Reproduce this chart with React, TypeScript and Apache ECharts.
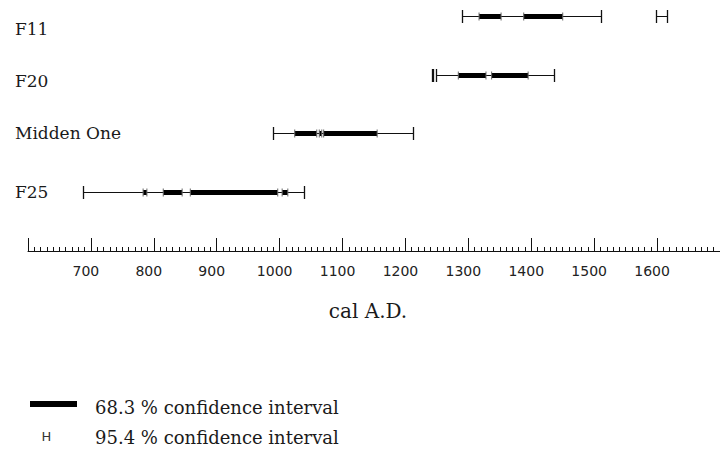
import React, { useEffect, useRef } from "react";
import * as echarts from "echarts";

// Sample names, bottom to top (y = 1..4)
const sampleNames = ["F25", "Midden One", "F20", "F11"];

// 95.4 % confidence ranges (cal A.D.), per sample
const ci95F25 = [[687, 1038]];
const ci95Midden = [[989, 1212]];
const ci95F20 = [[1242, 1244], [1249, 1436]];
const ci95F11 = [[1290, 1511], [1598, 1615]];

// 68.3 % confidence ranges (cal A.D.), per sample
const ci68F25 = [[783, 789], [815, 845], [858, 997], [1004, 1013]];
const ci68Midden = [[1024, 1059], [1063, 1067], [1070, 1155]];
const ci68F20 = [[1284, 1328], [1337, 1395]];
const ci68F11 = [[1317, 1352], [1388, 1450]];

const axisMin = 600;
const axisMax = 1700;
const axisInterval = 100;

const legendLabels = ["68.3 % confidence interval", "95.4 % confidence interval"];
const axisTitle = "cal A.D.";

// style: vertical nudge of each row label (px), same order as sampleNames
const labelNudge = [0, 0, 6, 13];

const ci95All = [ci95F25, ci95Midden, ci95F20, ci95F11];
const ci68All = [ci68F25, ci68Midden, ci68F20, ci68F11];

export default function App() {
  const ref = useRef<HTMLDivElement>(null);

  useEffect(() => {
    document.body.style.margin = "0";
    if (!ref.current) return;
    const chart = echarts.init(ref.current, undefined, { renderer: "svg" });

    const data95: number[][] = [];
    ci95All.forEach((ranges, i) => ranges.forEach((r) => data95.push([r[0], r[1], i + 1])));
    const data68: number[][] = [];
    ci68All.forEach((ranges, i) => ranges.forEach((r) => data68.push([r[0], r[1], i + 1])));

    const rich: Record<string, any> = {};
    sampleNames.forEach((_, i) => {
      rich["r" + i] = {
        fontFamily: "DejaVu Serif",
        fontSize: 17,
        color: "#1a1a1a",
        padding: [labelNudge[i] * 2, 0, 0, 0],
      };
    });

    const render95 = (params: any, api: any) => {
      const a = api.coord([api.value(0), api.value(2)]);
      const b = api.coord([api.value(1), api.value(2)]);
      const y = Math.round(a[1]) + 0.5;
      const x0 = Math.round(a[0]) + 0.5;
      const x1 = Math.round(b[0]) + 0.5;
      return {
        type: "group",
        children: [
          { type: "line", shape: { x1: x0, y1: y, x2: x1, y2: y }, style: { stroke: "#111", lineWidth: 1 } },
          { type: "line", shape: { x1: x0, y1: y - 6.5, x2: x0, y2: y + 6.5 }, style: { stroke: "#111", lineWidth: 1.3 } },
          { type: "line", shape: { x1: x1, y1: y - 6.5, x2: x1, y2: y + 6.5 }, style: { stroke: "#111", lineWidth: 1.3 } },
        ],
      };
    };

    const render68 = (params: any, api: any) => {
      const a = api.coord([api.value(0), api.value(2)]);
      const b = api.coord([api.value(1), api.value(2)]);
      const y = Math.round(a[1]) + 0.5;
      const x0 = a[0];
      const x1 = b[0];
      return {
        type: "group",
        children: [
          { type: "rect", shape: { x: x0, y: y - 2.5, width: x1 - x0, height: 5 }, style: { fill: "#000" } },
          { type: "line", shape: { x1: x0, y1: y - 4, x2: x0, y2: y + 4 }, style: { stroke: "#666", lineWidth: 1 } },
          { type: "line", shape: { x1: x1, y1: y - 4, x2: x1, y2: y + 4 }, style: { stroke: "#666", lineWidth: 1 } },
        ],
      };
    };

    chart.setOption({
      animation: false,
      backgroundColor: "#ffffff",
      grid: { left: 28, right: -12, top: 0, bottom: 213 },
      xAxis: {
        type: "value",
        min: axisMin,
        max: axisMax,
        interval: axisInterval,
        name: axisTitle,
        nameLocation: "middle",
        nameGap: 60,
        nameTextStyle: {
          fontFamily: "DejaVu Serif",
          fontSize: 20,
          color: "#1a1a1a",
          verticalAlign: "middle",
          padding: [0, 12, 0, 0],
        },
        axisLine: { show: true, lineStyle: { color: "#111", width: 1 } },
        axisTick: { show: true, inside: true, length: 13, lineStyle: { color: "#111", width: 1 } },
        minorTick: { show: true, splitNumber: 10, length: 4, lineStyle: { color: "#111", width: 1 } },
        splitLine: { show: false },
        axisLabel: {
          show: true,
          margin: 13,
          fontFamily: "DejaVu Sans",
          fontSize: 14,
          color: "#222",
          showMinLabel: false,
          showMaxLabel: false,
          padding: [0, 10, 0, 0],
          formatter: (v: number) => String(v),
        },
      },
      yAxis: {
        type: "value",
        min: 0,
        max: 4.27,
        interval: 1,
        axisLine: { show: false },
        axisTick: { show: false },
        splitLine: { show: false },
        axisLabel: {
          show: true,
          align: "left",
          margin: 13,
          formatter: (v: number) => {
            const i = Math.round(v) - 1;
            if (Math.abs(v - Math.round(v)) > 1e-6 || i < 0 || i >= sampleNames.length) return "";
            return "{r" + i + "|" + sampleNames[i] + "}";
          },
          rich,
        },
      },
      series: [
        {
          type: "custom",
          name: "95.4 %",
          renderItem: render95,
          data: data95,
          encode: { x: [0, 1], y: 2 },
          clip: false,
        },
        {
          type: "custom",
          name: "68.3 %",
          renderItem: render68,
          data: data68,
          encode: { x: [0, 1], y: 2 },
          clip: false,
        },
      ],
      graphic: [
        { type: "rect", shape: { x: 30, y: 401, width: 47, height: 6 }, style: { fill: "#000" } },
        {
          type: "text",
          x: 95,
          y: 407,
          style: {
            text: legendLabels[0],
            fontFamily: "DejaVu Serif",
            fontSize: 18,
            fill: "#1a1a1a",
            verticalAlign: "middle",
            align: "left",
          },
        },
        {
          type: "text",
          x: 46.5,
          y: 436,
          style: {
            text: "H",
            fontFamily: "DejaVu Sans",
            fontSize: 13,
            fill: "#333",
            verticalAlign: "middle",
            align: "center",
          },
        },
        {
          type: "text",
          x: 95,
          y: 437,
          style: {
            text: legendLabels[1],
            fontFamily: "DejaVu Serif",
            fontSize: 18,
            fill: "#1a1a1a",
            verticalAlign: "middle",
            align: "left",
          },
        },
      ],
    });

    return () => chart.dispose();
  }, []);

  return <div ref={ref} style={{ width: 720, height: 464 }} />;
}
